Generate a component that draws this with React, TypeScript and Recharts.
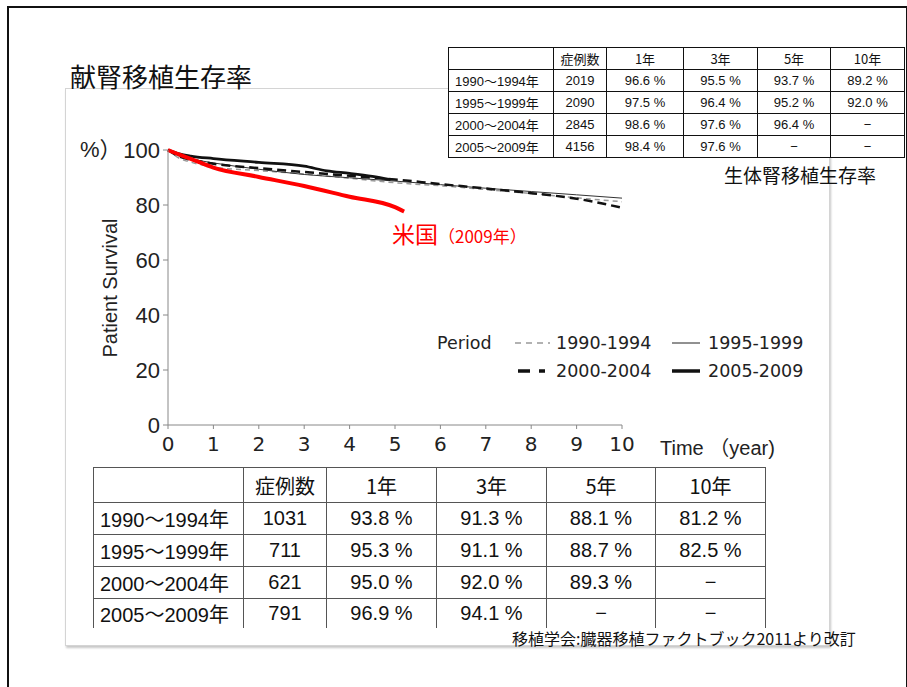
import React from 'react';
import { LineChart, Line, XAxis, YAxis, Legend, Label } from 'recharts';

// survival curves (years, %)
const yearsLong = [0, 0.25, 0.5, 1, 2, 3, 4, 5, 6, 7, 8, 9, 10];
const s1990 = [100, 97.0, 95.6, 93.8, 92.5, 91.3, 89.7, 88.1, 87.0, 85.6, 84.2, 82.6, 81.2];
const s1995 = [100, 97.8, 96.8, 95.3, 93.0, 91.1, 89.9, 88.7, 87.4, 86.1, 84.9, 83.7, 82.5];
const s2000 = [100, 97.6, 96.5, 95.0, 93.4, 92.0, 90.6, 89.3, 87.6, 86.0, 84.3, 82.3, 79.0];
const years2005 = [0, 0.25, 0.5, 1, 2, 3, 3.5, 4, 4.5, 4.9];
const s2005 = [100, 98.6, 97.8, 96.9, 95.5, 94.1, 92.4, 91.5, 90.4, 89.2];
const yearsUS = [0, 0.25, 0.5, 1, 2, 3, 4, 5, 5.2];
const sUS = [100, 98.3, 96.8, 93.6, 90.2, 86.9, 83.0, 79.2, 77.6];

const xTicks = [0, 1, 2, 3, 4, 5, 6, 7, 8, 9, 10];
const yTicks = [0, 20, 40, 60, 80, 100];

// tables
const periods = ['1990～1994年', '1995～1999年', '2000～2004年', '2005～2009年'];
const headers = ['', '症例数', '1年', '3年', '5年', '10年'];
const cadaverCases = ['1031', '711', '621', '791'];
const cadaverRates = [
  ['93.8 %', '91.3 %', '88.1 %', '81.2 %'],
  ['95.3 %', '91.1 %', '88.7 %', '82.5 %'],
  ['95.0 %', '92.0 %', '89.3 %', '−'],
  ['96.9 %', '94.1 %', '−', '−'],
];
const livingCases = ['2019', '2090', '2845', '4156'];
const livingRates = [
  ['96.6 %', '95.5 %', '93.7 %', '89.2 %'],
  ['97.5 %', '96.4 %', '95.2 %', '92.0 %'],
  ['98.6 %', '97.6 %', '96.4 %', '−'],
  ['98.4 %', '97.6 %', '−', '−'],
];

const toPts = (xs: number[], ys: number[]) => xs.map((x, i) => ({ year: x, value: ys[i] }));

const jp = '"Noto Sans CJK JP", sans-serif';
const num = '"Liberation Sans", "Noto Sans CJK JP", sans-serif';

const LegendBox = () => {
  const txt: React.CSSProperties = { fontFamily: '"DejaVu Sans", sans-serif', fontSize: 17.5, color: '#222' };
  const row: React.CSSProperties = { display: 'flex', alignItems: 'center', height: 28 };
  return (
    <div>
      <div style={row}>
        <span style={{ ...txt, width: 78 }}>Period</span>
        <svg width={41} height={10}><line x1={0} y1={5} x2={35} y2={5} stroke="#999" strokeWidth={1.5} strokeDasharray="6 5" /></svg>
        <span style={{ ...txt, width: 116 }}>1990-1994</span>
        <svg width={36} height={10}><line x1={0} y1={5} x2={28} y2={5} stroke="#222" strokeWidth={1} /></svg>
        <span style={txt}>1995-1999</span>
      </div>
      <div style={row}>
        <span style={{ width: 78 }} />
        <svg width={41} height={10}><line x1={3} y1={5} x2={35} y2={5} stroke="#111" strokeWidth={3.5} strokeDasharray="12 9 6 40" /></svg>
        <span style={{ ...txt, width: 116 }}>2000-2004</span>
        <svg width={36} height={10}><line x1={0} y1={5} x2={28} y2={5} stroke="#111" strokeWidth={3.5} /></svg>
        <span style={txt}>2005-2009</span>
      </div>
    </div>
  );
};

const DataTable = ({ cases, rates, colW, rowH, fontSize, left, top, border, cutLast }: any) => (
  <table
    style={{
      position: 'absolute', left, top, borderCollapse: 'collapse', background: '#fff',
      fontFamily: num, fontSize, color: '#111', tableLayout: 'fixed',
    }}
  >
    <tbody>
      <tr style={{ height: rowH[0] }}>
        {headers.map((h, i) => (
          <td key={i} style={{ width: colW[i], border, textAlign: 'center', padding: 0, fontFamily: jp }}>{h}</td>
        ))}
      </tr>
      {periods.map((p, r) => {
        const bb = cutLast && r === 3 ? 'none' : border;
        return (
          <tr key={p} style={{ height: rowH[r + 1] }}>
            <td style={{ border, padding: '0 0 0 6px', whiteSpace: 'nowrap', borderBottom: bb }}>{p}</td>
            <td style={{ border, textAlign: 'center', padding: 0, borderBottom: bb }}>{cases[r]}</td>
            {rates[r].map((v: string, c: number) => (
              <td key={c} style={{ border, textAlign: 'center', padding: 0, borderBottom: bb }}>{v}</td>
            ))}
          </tr>
        );
      })}
    </tbody>
  </table>
);

export default function App() {
  return (
    <div style={{ position: 'absolute', left: 0, top: 0, width: 907, height: 687, background: '#fff', overflow: 'hidden' }}>
      {/* slide border */}
      <div style={{ position: 'absolute', left: 7, top: 6, width: 897, height: 700, borderLeft: '2px solid #111', borderTop: '2px solid #111', borderRight: '2px solid #111' }} />
      {/* picture frame */}
      <div style={{ position: 'absolute', left: 65, top: 88, width: 763, height: 556, border: '1px solid #d4d4d4', boxShadow: '1px 2px 2px #c8c8c8', background: '#fff' }} />

      <div style={{ position: 'absolute', left: 70, top: 58, fontFamily: jp, fontSize: 26, color: '#111', lineHeight: '36px' }}>献腎移植生存率</div>

      <div style={{ position: 'absolute', left: 80, top: 135, fontFamily: num, fontSize: 22, color: '#222', lineHeight: '30px' }}>%）</div>
      <div style={{ position: 'absolute', left: 110, top: 288, transform: 'translate(-50%, -50%) rotate(-90deg)', fontFamily: num, fontSize: 20, color: '#222', whiteSpace: 'nowrap' }}>Patient Survival</div>

      <div style={{ position: 'absolute', left: 65, top: 88 }}>
        <LineChart width={765} height={400} margin={{ top: 62, right: 208, left: 53, bottom: 18 }}>
          <XAxis
            dataKey="year"
            type="number"
            domain={[0, 10]}
            ticks={xTicks}
            height={45}
            stroke="#888"
            tickSize={4}
            tickMargin={8}
            tick={{ fill: '#222', fontSize: 20, fontFamily: '"DejaVu Sans", sans-serif' }}
          >
            <Label value="Time （year)" position="right" offset={38} style={{ fill: '#222', fontSize: 20, fontFamily: num }} />
          </XAxis>
          <YAxis
            type="number"
            domain={[0, 100]}
            ticks={yTicks}
            width={50}
            stroke="#888"
            tickSize={5}
            tickMargin={3}
            tick={{ fill: '#222', fontSize: 22, fontFamily: num }}
          />
          <Legend
            layout="horizontal"
            verticalAlign="middle"
            align="center"
            content={() => <LegendBox />}
            wrapperStyle={{ position: 'absolute', left: 372, top: 241, width: 390 }}
          />
          <Line data={toPts(yearsLong, s1990)} dataKey="value" type="monotone" stroke="#999" strokeWidth={1.5} strokeDasharray="5 4" dot={false} isAnimationActive={false} name="1990-1994" />
          <Line data={toPts(yearsLong, s1995)} dataKey="value" type="monotone" stroke="#333" strokeWidth={1} dot={false} isAnimationActive={false} name="1995-1999" />
          <Line data={toPts(yearsLong, s2000)} dataKey="value" type="monotone" stroke="#111" strokeWidth={2.5} strokeDasharray="9 5" dot={false} isAnimationActive={false} name="2000-2004" />
          <Line data={toPts(years2005, s2005)} dataKey="value" type="monotone" stroke="#111" strokeWidth={2.8} dot={false} isAnimationActive={false} name="2005-2009" />
          <Line data={toPts(yearsUS, sUS)} dataKey="value" type="monotone" stroke="#ff0000" strokeWidth={4} dot={false} isAnimationActive={false} name="米国" />
        </LineChart>
      </div>

      <div style={{ position: 'absolute', left: 392, top: 218, color: '#ff0000', fontFamily: jp, whiteSpace: 'nowrap', lineHeight: '30px' }}>
        <span style={{ fontSize: 23 }}>米国</span>
        <span style={{ fontSize: 17 }}>（2009年）</span>
      </div>

      <DataTable
        cases={livingCases}
        rates={livingRates}
        colW={[104, 52, 76, 73, 72, 73]}
        rowH={[22, 22, 22, 22, 22]}
        fontSize={13}
        left={448}
        top={47}
        border="1px solid #111"
      />
      <div style={{ position: 'absolute', left: 724, top: 162, fontFamily: jp, fontSize: 19, color: '#111', lineHeight: '26px' }}>生体腎移植生存率</div>

      <DataTable
        cases={cadaverCases}
        rates={cadaverRates}
        colW={[149, 82, 109, 109, 108, 109]}
        rowH={[35, 32, 32, 32, 27]}
        fontSize={20}
        left={93}
        top={467}
        border="1px solid #555"
        cutLast
      />

      <div style={{ position: 'absolute', left: 512, top: 626, fontFamily: jp, fontSize: 16, color: '#111', lineHeight: '24px', whiteSpace: 'nowrap' }}>移植学会:臓器移植ファクトブック2011より改訂</div>
    </div>
  );
}
